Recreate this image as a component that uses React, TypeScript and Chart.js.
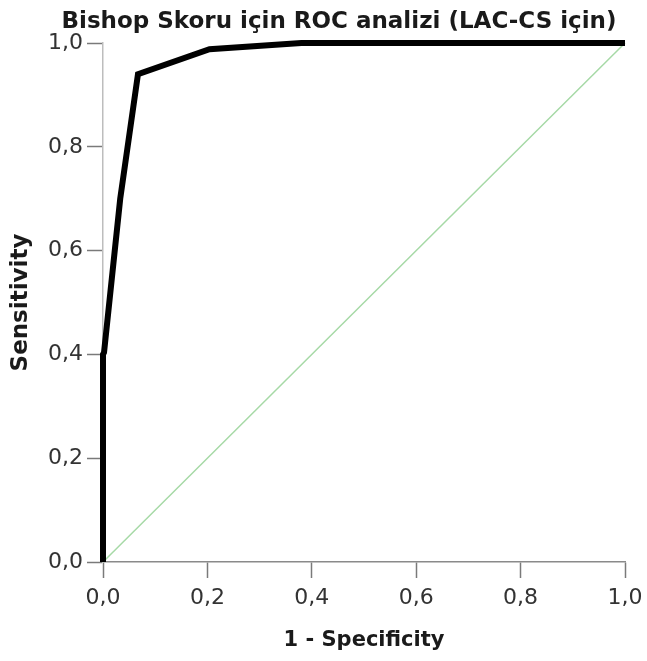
import { useEffect, useRef } from 'react';
import { Chart, registerables } from 'chart.js';

Chart.register(...registerables);

const titleText = 'Bishop Skoru için ROC analizi (LAC-CS için)';
const xAxisTitle = '1 - Specificity';
const yAxisTitle = 'Sensitivity';
const tickValues = [0, 0.2, 0.4, 0.6, 0.8, 1.0];
const tickLabels = ['0,0', '0,2', '0,4', '0,6', '0,8', '1,0'];

// ROC curve (1 - specificity, sensitivity)
const rocFpr = [0, 0, 0.002, 0.033, 0.067, 0.204, 0.38, 1.0];
const rocTpr = [0, 0.4, 0.404, 0.7, 0.94, 0.988, 1.0, 1.0];

// reference diagonal
const refFpr = [0, 1];
const refTpr = [0, 1];

const W = 647;
const H = 661;

const tickLabel = (value: number) => {
  const i = tickValues.findIndex((t) => Math.abs(t - value) < 1e-6);
  return i >= 0 ? tickLabels[i] : '';
};

const titlePlugin = {
  id: 'customTitle',
  afterDraw(chart: any) {
    const ctx = chart.ctx;
    ctx.save();
    ctx.font = 'bold 23px "DejaVu Sans"';
    ctx.fillStyle = '#1a1a1a';
    ctx.textAlign = 'center';
    ctx.textBaseline = 'alphabetic';
    ctx.fillText(titleText, 339, 28);
    ctx.restore();
  },
};

export default function App() {
  const ref = useRef<HTMLCanvasElement>(null);

  useEffect(() => {
    if (!ref.current) return;
    const chart = new Chart(ref.current, {
      type: 'scatter',
      data: {
        datasets: [
          {
            label: 'ROC',
            data: rocFpr.map((x, i) => ({ x, y: rocTpr[i] })),
            showLine: true,
            borderColor: '#000000',
            borderWidth: 6,
            pointRadius: 0,
            tension: 0,
            clip: false as any,
            borderJoinStyle: 'miter' as any,
          },
          {
            label: 'Reference',
            data: refFpr.map((x, i) => ({ x, y: refTpr[i] })),
            showLine: true,
            borderColor: '#a6d9a6',
            borderWidth: 1.5,
            pointRadius: 0,
            clip: false as any,
          },
        ],
      },
      options: {
        responsive: false,
        animation: false,
        devicePixelRatio: 1,
        layout: { padding: { top: 43, right: 22, bottom: 0, left: 0 } },
        plugins: {
          legend: { display: false },
          title: { display: false },
          tooltip: { enabled: false },
        },
        scales: {
          x: {
            type: 'linear',
            min: 0,
            max: 1,
            afterFit: (s: any) => {
              s.height = 99;
              s.paddingRight = 0;
              s.paddingLeft = 0;
            },
            border: { display: true, color: '#8a8a8a', width: 1.5 },
            grid: {
              drawOnChartArea: false,
              drawTicks: true,
              tickLength: 16,
              tickWidth: 1.5,
              tickColor: '#7a7a7a',
            },
            ticks: {
              stepSize: 0.2,
              padding: 7,
              color: '#333333',
              font: { family: '"DejaVu Sans"', size: 22 },
              callback: (v: any) => tickLabel(Number(v)),
            },
            title: {
              display: true,
              text: xAxisTitle,
              color: '#1a1a1a',
              font: { family: '"DejaVu Sans"', size: 21, weight: 'bold' },
              padding: { top: 0, bottom: 8 },
            },
          },
          y: {
            type: 'linear',
            min: 0,
            max: 1,
            afterFit: (s: any) => {
              s.width = 103;
              s.paddingTop = 0;
              s.paddingBottom = 0;
            },
            border: { display: true, color: '#bdbdbd', width: 1.5 },
            grid: {
              drawOnChartArea: false,
              drawTicks: true,
              tickLength: 16,
              tickWidth: 1.5,
              tickColor: '#7a7a7a',
            },
            ticks: {
              stepSize: 0.2,
              padding: 4,
              color: '#333333',
              font: { family: '"DejaVu Sans"', size: 22 },
              callback: (v: any) => tickLabel(Number(v)),
            },
            title: {
              display: true,
              text: yAxisTitle,
              color: '#1a1a1a',
              font: { family: '"DejaVu Sans"', size: 23, weight: 'bold' },
              padding: { top: 7, bottom: 0 },
            },
          },
        },
      },
      plugins: [titlePlugin],
    });
    return () => chart.destroy();
  }, []);

  return (
    <div style={{ position: 'fixed', left: 0, top: 0, width: W, height: H, background: '#fff' }}>
      <canvas ref={ref} width={W} height={H} style={{ display: 'block' }} />
    </div>
  );
}
